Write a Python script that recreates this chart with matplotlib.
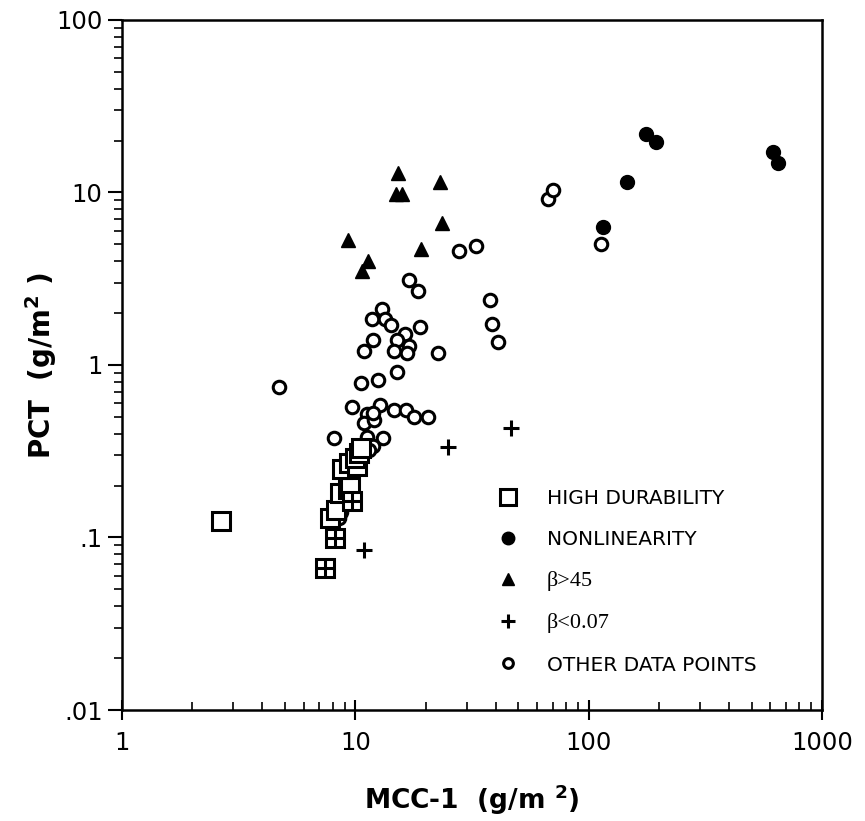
import matplotlib
matplotlib.use('Agg')
import matplotlib.pyplot as plt
from matplotlib.lines import Line2D
from matplotlib.ticker import FixedLocator, FixedFormatter, LogLocator, NullFormatter

# high durability glasses (open squares)
hd_x = [2.65, 7.8, 8.3, 8.6, 9.3, 9.5, 8.8, 9.4, 10.2, 10.0, 10.4, 10.6]
hd_y = [0.125, 0.13, 0.145, 0.18, 0.19, 0.195, 0.25, 0.27, 0.26, 0.29, 0.31, 0.33]

# high durability and beta<0.07 (crossed squares)
hd_low_x = [7.4, 8.2, 9.7]
hd_low_y = [0.067, 0.099, 0.162]

# nonlinearity (filled circles)
nl_x = [176, 194, 146, 115, 617, 647]
nl_y = [21.8, 19.7, 11.5, 6.3, 17.1, 14.9]

# beta > 45 (filled triangles)
bhi_x = [15.3, 15.0, 15.8, 23.0, 23.6, 9.3, 19.2, 11.3, 10.7]
bhi_y = [13.0, 9.8, 9.8, 11.5, 6.7, 5.3, 4.7, 4.0, 3.5]

# beta < 0.07 (plus)
blo_x = [10.9, 24.9, 46.5]
blo_y = [0.085, 0.336, 0.43]

# other data points (open circles)
other_x = [66.7, 70.5, 113, 33, 27.7, 37.8, 38.6, 41.0, 16.9, 18.5,
           13.0, 11.8, 13.4, 14.2, 19.0, 11.9, 10.9, 16.4, 15.1, 16.9,
           16.6, 14.6, 22.7, 15.1, 4.7, 10.6, 12.5, 9.7, 12.7, 11.2,
           10.9, 12.0, 11.9, 14.7, 16.5, 17.9, 20.5, 8.1, 13.1, 11.2,
           11.9, 11.5, 8.3, 8.7, 8.5]
other_y = [9.2, 10.4, 5.0, 4.9, 4.57, 2.38, 1.74, 1.36, 3.1, 2.7,
           2.12, 1.84, 1.86, 1.71, 1.66, 1.39, 1.21, 1.51, 1.39, 1.29,
           1.17, 1.21, 1.17, 0.91, 0.75, 0.79, 0.82, 0.57, 0.59, 0.52,
           0.46, 0.48, 0.53, 0.55, 0.55, 0.50, 0.50, 0.375, 0.375, 0.38,
           0.34, 0.32, 0.15, 0.14, 0.13]

x_ticks = [1, 10, 100, 1000]
x_tick_labels = ['1', '10', '100', '1000']
y_ticks = [0.01, 0.1, 1, 10, 100]
y_tick_labels = ['.01', '.1', '1', '10', '100']

legend_labels = ['HIGH DURABILITY', 'NONLINEARITY', u'\u03b2>45',
                 u'\u03b2<0.07', 'OTHER DATA POINTS']

plt.rcParams['font.family'] = 'DejaVu Sans'
plt.rcParams['mathtext.fontset'] = 'dejavusans'

fig = plt.figure(figsize=(8.65, 8.21), dpi=100)
ax = fig.add_axes([122 / 865, 1 - 710 / 821, 700 / 865, 690 / 821])

ax.plot(other_x, other_y, 'o', ms=9, mfc='white', mec='black', mew=2.2,
        ls='none', zorder=3)
ax.plot(hd_x, hd_y, 's', ms=13, mfc='white', mec='black', mew=2.2,
        ls='none', zorder=4)
ax.plot(hd_low_x, hd_low_y, 's', ms=13, mfc='white', mec='black', mew=2.2,
        ls='none', zorder=4)
ax.plot(hd_low_x, hd_low_y, '+', ms=12, mec='black', mew=2.2,
        ls='none', zorder=5)
ax.plot(nl_x, nl_y, 'o', ms=10, color='black', ls='none', zorder=3)
ax.plot(bhi_x, bhi_y, '^', ms=10, color='black', ls='none', zorder=3)
ax.plot(blo_x, blo_y, '+', ms=11, mec='black', mew=2.2, ls='none',
        zorder=3)

ax.set_xscale('log')
ax.set_yscale('log')
ax.set_xlim(1, 1000)
ax.set_ylim(0.01, 100)

ax.xaxis.set_major_locator(FixedLocator(x_ticks))
ax.xaxis.set_major_formatter(FixedFormatter(x_tick_labels))
ax.yaxis.set_major_locator(FixedLocator(y_ticks))
ax.yaxis.set_major_formatter(FixedFormatter(y_tick_labels))
ax.xaxis.set_minor_locator(LogLocator(base=10, subs=range(2, 10)))
ax.yaxis.set_minor_locator(LogLocator(base=10, subs=range(2, 10)))
ax.xaxis.set_minor_formatter(NullFormatter())
ax.yaxis.set_minor_formatter(NullFormatter())

ax.tick_params(axis='x', which='major', direction='inout', length=14,
               width=1.5, labelsize=17.5, pad=8)
ax.tick_params(axis='x', which='minor', direction='in', length=6,
               width=1.2)
ax.tick_params(axis='y', which='major', direction='out', length=10,
               width=1.5, labelsize=17.5, pad=4)
ax.tick_params(axis='y', which='minor', direction='out', length=6,
               width=1.2)
for side in ['top', 'right', 'bottom', 'left']:
    ax.spines[side].set_linewidth(1.8)

ax.set_xlabel(r'MCC-1  (g/m $^{\mathbf{2}}$)', fontsize=19,
              fontweight='bold', labelpad=20)
ax.set_ylabel(r'PCT  (g/m$^{\mathbf{2}}$ )', fontsize=20,
              fontweight='bold')
ax.yaxis.set_label_coords(-0.09, 0.5)

handles = [
    Line2D([], [], marker='s', ms=12, mfc='white', mec='black', mew=2.2,
           ls='none'),
    Line2D([], [], marker='o', ms=9, color='black', ls='none'),
    Line2D([], [], marker='^', ms=9, color='black', ls='none'),
    Line2D([], [], marker='+', ms=10, mec='black', mew=2.2, ls='none'),
    Line2D([], [], marker='o', ms=7, mfc='white', mec='black', mew=2.2,
           ls='none'),
]
leg = ax.legend(handles, legend_labels, loc='upper left',
                bbox_to_anchor=(0.523, 0.335), frameon=False,
                fontsize=14.5, handlelength=1.0, handletextpad=1.4,
                labelspacing=1.1, borderpad=0)
for t in leg.get_texts()[2:4]:
    t.set_fontfamily('Liberation Serif')
    t.set_fontsize(16)

fig.savefig('out.png', dpi=100)
